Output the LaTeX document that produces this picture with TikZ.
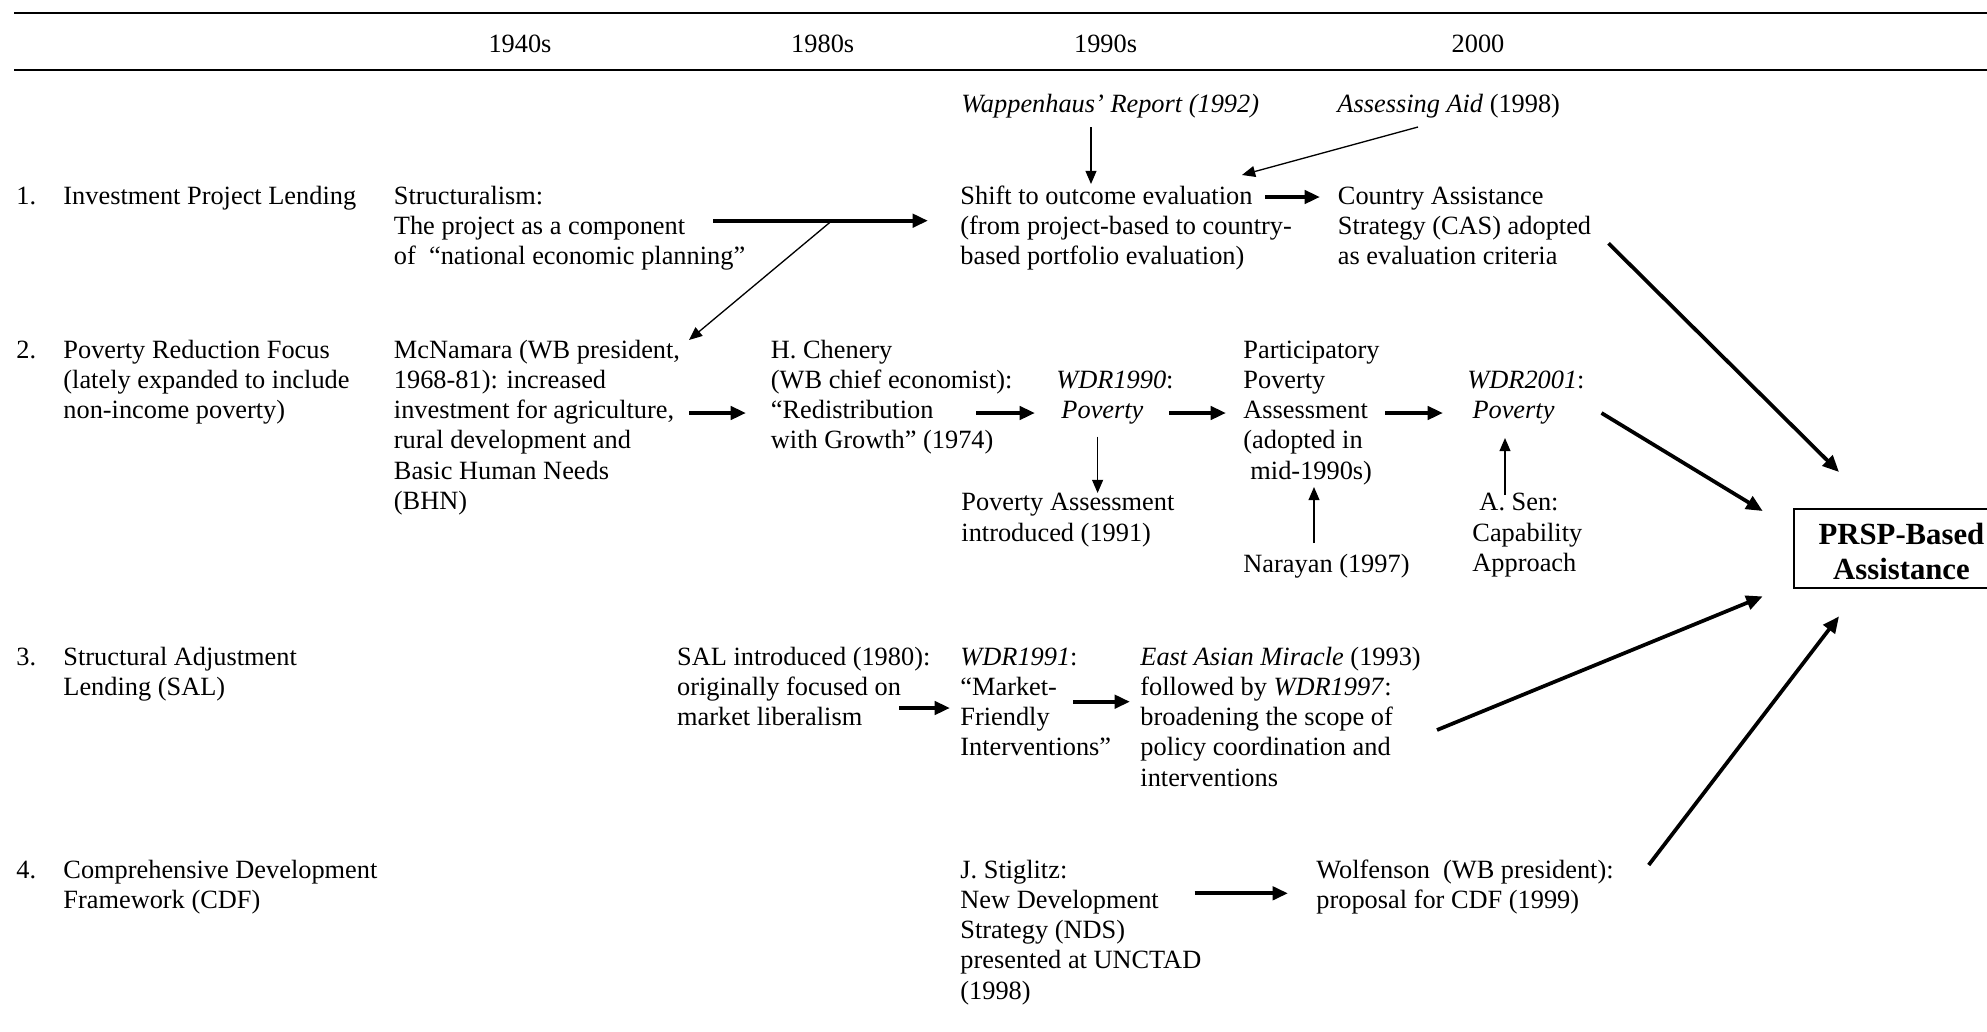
\documentclass[tikz,border=0pt]{standalone}
\usepackage{fontspec}
\setmainfont{Liberation Serif}
\usetikzlibrary{arrows.meta,calc}

% text block whose baseline is its first line
\newcommand{\blocktext}[1]{\begin{tabular}[t]{@{}l@{}}#1\end{tabular}}

\tikzset{
  txt/.style={anchor=base west, inner sep=0pt},
  bigarrow/.style={-{Triangle[length=7pt,width=6pt]}, line width=1.8pt},
  thinarrow/.style={-{Triangle[length=6pt,width=5pt]}, line width=0.6pt},
  prsparrow/.style={-{Triangle[length=7.5pt,width=6.5pt]}, line width=1.7pt},
  rule/.style={line width=0.9pt}
}

\begin{document}
\begin{tikzpicture}[x=0.016cm, y=-0.016cm, every node/.style={font=\fontsize{12}{13.8}\selectfont}]
    \clip (0,0) rectangle (1987,1031);

    % Header rules and decades
    \draw[rule] (14,12.7) -- (1987,12.7);
    \draw[rule] (14,70) -- (1987,70);
    \node[anchor=base, inner sep=0pt] (d1940) at (520,52) {1940s};
    \node[anchor=base, inner sep=0pt] (d1980) at (822.7,52) {1980s};
    \node[anchor=base, inner sep=0pt] (d1990) at (1105.6,52) {1990s};
    \node[anchor=base, inner sep=0pt] (d2000) at (1478,52) {2000};

    % Row headings
    \node[txt] (num1) at (16,204) {1.};
    \node[txt] (lab1) at (63,204) {Investment Project Lending};
    \node[txt] (num2) at (16,358) {2.};
    \node[txt] (lab2) at (63,358) {\blocktext{Poverty Reduction Focus\\(lately expanded to include\\non-income poverty)}};
    \node[txt] (num3) at (16,665) {3.};
    \node[txt] (lab3) at (63,665) {\blocktext{Structural Adjustment\\Lending (SAL)}};
    \node[txt] (num4) at (16,878) {4.};
    \node[txt] (lab4) at (63,878) {\blocktext{Comprehensive Development\\Framework (CDF)}};

    % Row 1
    \node[txt] (struct) at (393.5,204) {\blocktext{Structuralism:\\The project as a component\\of~~“national economic planning”}};
    \node[txt] (wapp) at (961,112) {\textit{Wappenhaus’ Report (1992)}};
    \node[txt] (assess) at (1337,112) {\textit{Assessing Aid} (1998)};
    \node[txt] (shift) at (960,204) {\blocktext{Shift to outcome evaluation\\(from project-based to country-\\based portfolio evaluation)}};
    \node[txt] (cas) at (1337.5,204) {\blocktext{Country Assistance\\Strategy (CAS) adopted\\as evaluation criteria}};

    % Row 2
    \node[txt] (mcn) at (393.5,358) {\blocktext{McNamara (WB president,\\1968-81): increased\\investment for agriculture,\\rural development and\\Basic Human Needs\\(BHN)}};
    \node[txt] (chen) at (770.5,358) {\blocktext{H. Chenery\\(WB chief economist):\\“Redistribution\\with Growth” (1974)}};
    \node[txt] (wdr90) at (1056,388) {\blocktext{\textit{WDR1990}:\\\hspace*{2.3pt}\textit{Poverty}}};
    \node[txt] (pa91) at (961,510.7) {\blocktext{Poverty Assessment\\introduced (1991)}};
    \node[txt] (ppa) at (1243,358) {\blocktext{Participatory\\Poverty\\Assessment\\(adopted in\\\hspace*{3.2pt}mid-1990s)}};
    \node[txt] (nar) at (1243,572) {Narayan (1997)};
    \node[txt] (wdr01) at (1467,388) {\blocktext{\textit{WDR2001}:\\\hspace*{2.3pt}\textit{Poverty}}};
    \node[txt] (sen) at (1472,510.7) {\blocktext{\hspace*{3.2pt}A. Sen:\\Capability\\Approach}};

    % Row 3
    \node[txt] (sal) at (676.7,665) {\blocktext{SAL introduced (1980):\\originally focused on\\market liberalism}};
    \node[txt] (wdr91) at (960,665) {\blocktext{\textit{WDR1991}:\\“Market-\\Friendly\\Interventions”}};
    \node[txt] (eam) at (1140,665) {\blocktext{\textit{East Asian Miracle} (1993)\\followed by \textit{WDR1997}:\\broadening the scope of\\policy coordination and\\interventions}};

    % Row 4
    \node[txt] (stig) at (960,878) {\blocktext{J. Stiglitz:\\New Development\\Strategy (NDS)\\presented at UNCTAD\\(1998)}};
    \node[txt] (wolf) at (1316,878) {\blocktext{Wolfenson~~(WB president):\\proposal for CDF (1999)}};

    % Goal
    \node[draw, line width=0.8pt, anchor=west, minimum width=98pt, minimum height=35.8pt, inner sep=0pt,
          font=\fontsize{14}{16.1}\selectfont\bfseries] (prsp) at (1793,548.5)
          {\raisebox{-3pt}[\height][\depth]{\begin{tabular}{@{}c@{}}PRSP-Based\\Assistance\end{tabular}}};

    % Row 1 arrows
    \draw[thinarrow] ($(wapp.base west)+(130,15)$) -- ($(shift.base west)+(131,-20)$);
    \draw[thinarrow] ($(assess.base west)+(81,15)$) -- ($(shift.base west)+(282,-29)$);
    \draw[bigarrow] ($(struct.base west)+(319.5,16.7)$) -- coordinate[pos=0.553] (split) ($(shift.base west)+(-32,16.7)$);
    \draw[thinarrow] (split) -- ($(mcn.base west)+(295.5,-18)$);
    \draw[bigarrow] ($(shift.base west)+(305,-7)$) -- ($(cas.base west)+(-17.5,-7)$);

    % Row 2 arrows
    \draw[bigarrow] ($(mcn.base west)+(295.5,55)$) -- ($(chen.base west)+(-24.5,55)$);
    \draw[bigarrow] ($(chen.base west)+(205.5,55)$) -- ($(wdr90.base west)+(-21,25)$);
    \draw[thinarrow] ($(wdr90.base west)+(41.6,48.7)$) -- ($(pa91.base west)+(136.6,-17.7)$);
    \draw[bigarrow] ($(wdr90.base west)+(113,25)$) -- ($(ppa.base west)+(-17,55)$);
    \draw[thinarrow] ($(nar.base west)+(71,-29)$) -- ($(ppa.base west)+(71,129)$);
    \draw[bigarrow] ($(ppa.base west)+(142,55)$) -- ($(wdr01.base west)+(-24,25)$);
    \draw[thinarrow] ($(sen.base west)+(33,-15.7)$) -- ($(wdr01.base west)+(38,50)$);

    % Row 3 and 4 arrows
    \draw[bigarrow] ($(sal.base west)+(222.3,43)$) -- ($(wdr91.base west)+(-10,43)$);
    \draw[bigarrow] ($(wdr91.base west)+(113,36.7)$) -- ($(eam.base west)+(-10,36.7)$);
    \draw[bigarrow] ($(stig.base west)+(234.6,15.3)$) -- ($(wolf.base west)+(-28,15.3)$);

    % Arrows into PRSP
    \draw[prsparrow] ($(cas.base west)+(271,39.3)$) -- ($(prsp.north west)+(46,-36.3)$);
    \draw[prsparrow] ($(wdr01.base west)+(134.5,25)$) -- ($(prsp.north west)+(-30.3,2.7)$);
    \draw[prsparrow] ($(eam.base west)+(297,65)$) -- ($(prsp.south west)+(-30.3,7.7)$);
    \draw[prsparrow] ($(wolf.base west)+(332.7,-13)$) -- ($(prsp.south west)+(46,27.7)$);
\end{tikzpicture}
\end{document}
